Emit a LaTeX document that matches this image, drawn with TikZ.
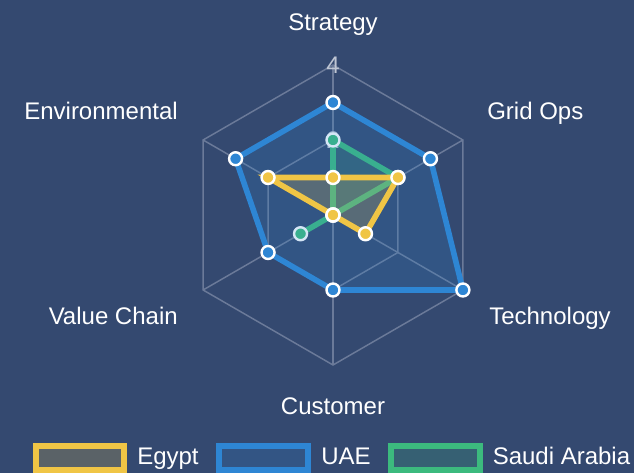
\documentclass[tikz,border=0pt]{standalone}
\usepackage{fontspec}
\setmainfont{Liberation Sans}
\usepackage{xcolor}
\usetikzlibrary{calc}

\definecolor{bg}{HTML}{344970}
\definecolor{egypt}{HTML}{F0C545}
\definecolor{uae}{HTML}{2E86D4}
\definecolor{saudi}{HTML}{3CBA7E}
\definecolor{gridc}{HTML}{6B7A99}
\definecolor{tickc}{HTML}{BEC5D3}

\begin{document}
\begin{tikzpicture}[x=0.75pt,y=0.75pt,
    lbl/.style={text=white,font=\fontsize{18}{20}\selectfont,inner sep=0pt},
    tick/.style={text=tickc,font=\fontsize{18}{20}\selectfont,inner sep=0pt},
    series/.style={draw=#1,fill=#1,fill opacity=0.2,line width=4.2pt},
    pt/.style={fill=#1,draw=white,line width=1.8pt},
    key/.style={draw=#1,fill=#1!20!bg,line width=4.5pt}]
        \clip (0,0) rectangle (634,473);
        \fill[bg] (0,0) rectangle (634,473);

        \coordinate(o) at (333,258);
        \foreach \a/\n in {90/st,30/go,-30/te,-90/cu,210/va,150/en}{
            \coordinate(\n4) at ($(o)+(\a:150)$);
            \coordinate(\n2) at ($(o)+(\a:75)$);
            \draw[gridc,line width=1.1pt](o)--(\n4);
        }
        \draw[gridc,line width=1.1pt](st4)--(go4)--(te4)--(cu4)--(va4)--(en4)--cycle;
        \draw[gridc,line width=1.1pt](st2)--(go2)--(te2)--(cu2)--(va2)--(en2)--cycle;

        \node[tick](t4) at (st4) {4};
        \node[tick](t2) at (st2) {2};

        % Saudi Arabia
        \coordinate(s1) at ($(o)+(90:75)$);
        \coordinate(s2) at ($(o)+(30:75)$);
        \coordinate(s3) at (o);
        \coordinate(s4) at (o);
        \coordinate(s5) at ($(o)+(210:37.5)$);
        \coordinate(s6) at (o);
        \draw[series=saudi](s1)--(s2)--(s3)--(s5)--(s6)--cycle;
        \foreach \p in {s1,s2,s3,s4,s5,s6}
            \filldraw[pt=saudi](\p) circle (6.5);

        % UAE
        \coordinate(u1) at ($(o)+(90:112.5)$);
        \coordinate(u2) at ($(o)+(30:112.5)$);
        \coordinate(u3) at ($(o)+(-30:150)$);
        \coordinate(u4) at ($(o)+(-90:75)$);
        \coordinate(u5) at ($(o)+(210:75)$);
        \coordinate(u6) at ($(o)+(150:112.5)$);
        \draw[series=uae](u1)--(u2)--(u3)--(u4)--(u5)--(u6)--cycle;
        \foreach \p in {u1,u2,u3,u4,u5,u6}
            \filldraw[pt=uae](\p) circle (6.5);

        % Egypt
        \coordinate(e1) at ($(o)+(90:37.5)$);
        \coordinate(e2) at ($(o)+(30:75)$);
        \coordinate(e3) at ($(o)+(-30:37.5)$);
        \coordinate(e4) at (o);
        \coordinate(e5) at (o);
        \coordinate(e6) at ($(o)+(150:75)$);
        \draw[series=egypt](e1)--(e2)--(e3)--(e4)--(e6)--cycle;
        \foreach \p in {e1,e2,e3,e4,e5,e6}
            \filldraw[pt=egypt](\p) circle (6.5);

        \node[lbl,anchor=base](l1) at (333,442) {Strategy};
        \node[lbl,anchor=base west](l2) at (487,353.7) {Grid Ops};
        \node[lbl,anchor=base west](l3) at (489,148.7) {Technology};
        \node[lbl,anchor=base](l4) at (333,58.7) {Customer};
        \node[lbl,anchor=base east](l5) at (178,148.7) {Value Chain};
        \node[lbl,anchor=base east](l6) at (178,353.7) {Environmental};

        \draw[key=egypt](35.7,27) rectangle (123.7,3);
        \node[lbl,anchor=base west](k1) at (137,8) {Egypt};
        \draw[key=uae](219,27) rectangle (308,3);
        \node[lbl,anchor=base west](k2) at (321,8) {UAE};
        \draw[key=saudi](391.3,27) rectangle (479.7,3);
        \node[lbl,anchor=base west](k3) at (492.5,8) {Saudi Arabia};
\end{tikzpicture}
\end{document}
